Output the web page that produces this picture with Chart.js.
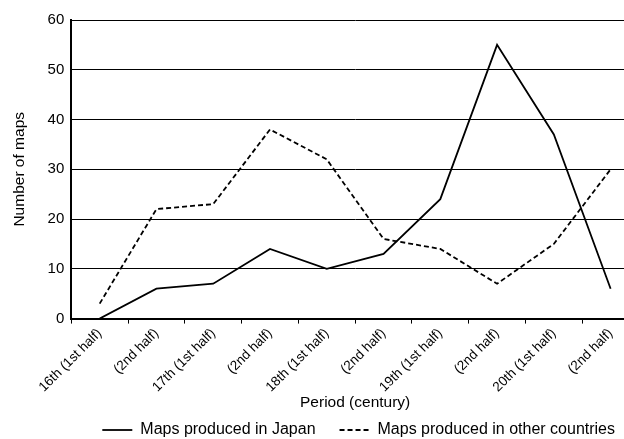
<!DOCTYPE html>
<html>
<head>
<meta charset="utf-8">
<script src="https://cdn.jsdelivr.net/npm/chart.js@4/dist/chart.umd.min.js"></script>
<style>
  html, body { margin: 0; padding: 0; background: #fff; }
  #wrap { width: 624px; height: 439px; overflow: hidden; position: relative; }
  #wrap canvas { position: absolute; left: 0; top: 0; }
</style>
</head>
<body>
<div id="wrap"><canvas id="mapChart" width="639" height="448"></canvas></div>
<script>
// periods along the x axis
let periods = ['16th (1st half)', '(2nd half)', '17th (1st half)', '(2nd half)', '18th (1st half)',
    '(2nd half)', '19th (1st half)', '(2nd half)', '20th (1st half)', '(2nd half)'];
let japanMaps = [0, 6, 7, 14, 10, 13, 24, 55, 37, 6];
let otherMaps = [3, 22, 23, 38, 32, 16, 14, 7, 15, 30];
let yTicks = [0, 10, 20, 30, 40, 50, 60];

const fontFamily = "'Liberation Sans', Arial, sans-serif";

const mapChart = new Chart(document.getElementById('mapChart'), {
    type: 'line',
    data: {
        labels: periods,
        datasets: [{
            label: 'Maps produced in Japan',
            data: japanMaps,
            borderColor: '#000',
            backgroundColor: '#000',
            borderWidth: 1.8,
            pointRadius: 0,
            tension: 0
        }, {
            label: 'Maps produced in other countries',
            data: otherMaps,
            borderColor: '#000',
            backgroundColor: '#000',
            borderWidth: 1.8,
            borderDash: [5, 3],
            pointRadius: 0,
            tension: 0
        }]
    },
    options: {
        responsive: false,
        animation: false,
        layout: { padding: { top: 20, right: 0, left: 10, bottom: 0 } },
        plugins: {
            tooltip: { enabled: false },
            legend: {
                position: 'bottom',
                align: 'end',
                labels: {
                    usePointStyle: true,
                    pointStyle: 'line',
                    pointStyleWidth: 30,
                    color: '#000',
                    padding: 24,
                    font: { family: fontFamily, size: 16 },
                    generateLabels: function (chart) {
                        const items = Chart.defaults.plugins.legend.labels.generateLabels(chart);
                        items.forEach((item, i) => {
                            item.lineDash = chart.data.datasets[i].borderDash || [];
                            item.lineWidth = 1.8;
                        });
                        return items;
                    }
                }
            }
        },
        scales: {
            x: {
                offset: true,
                grid: {
                    offset: true,
                    drawOnChartArea: false,
                    drawTicks: true,
                    tickLength: 5,
                    color: '#000'
                },
                border: { color: '#000', width: 2 },
                ticks: {
                    color: '#000',
                    maxRotation: 45,
                    minRotation: 45,
                    autoSkip: false,
                    padding: 2,
                    font: { family: fontFamily, size: 13.5 }
                },
                title: {
                    display: true,
                    text: 'Period (century)',
                    color: '#000',
                    padding: { top: -4, bottom: -14 },
                    font: { family: fontFamily, size: 15.5 }
                }
            },
            y: {
                min: 0,
                max: 60,
                afterBuildTicks: function (scale) {
                    scale.ticks = yTicks.map(v => ({ value: v }));
                },
                grid: {
                    color: '#000',
                    drawTicks: false,
                    lineWidth: 1
                },
                border: { color: '#000', width: 2 },
                ticks: {
                    color: '#000',
                    padding: 7,
                    font: { family: fontFamily, size: 15 }
                },
                title: {
                    display: true,
                    text: 'Number of maps',
                    color: '#000',
                    padding: { top: 0, bottom: 12 },
                    font: { family: fontFamily, size: 15.5 }
                }
            }
        }
    }
});
</script>
</body>
</html>
